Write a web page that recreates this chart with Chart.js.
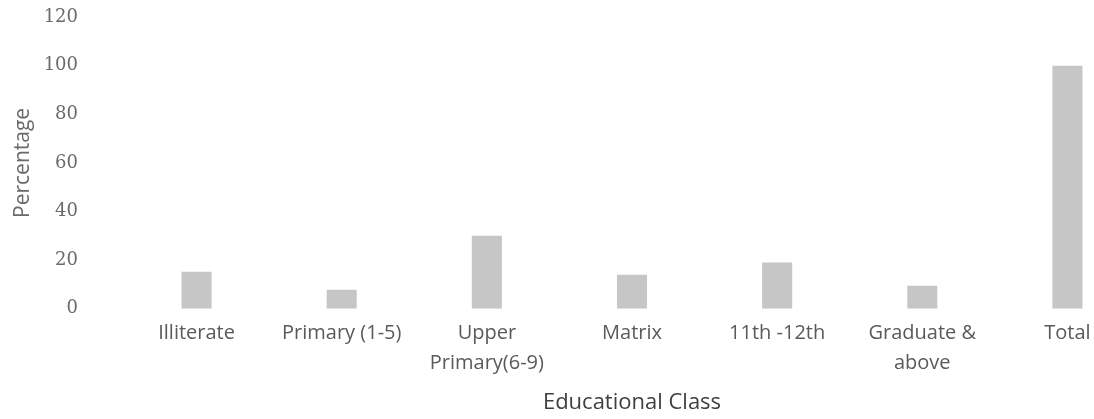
<!DOCTYPE html>
<html>
<head>
<meta charset="utf-8">
<script src="https://cdn.jsdelivr.net/npm/chart.js@4/dist/chart.umd.min.js"></script>
<style>
  html, body { margin: 0; padding: 0; background: #ffffff; overflow: hidden; width: 1094px; height: 419px; }
  #wrap { position: relative; width: 1145px; height: 419px; }
</style>
</head>
<body>
<div id="wrap"><canvas id="c"></canvas></div>
<script>
const categories = [
  "Illiterate",
  "Primary (1-5)",
  ["Upper", "Primary(6-9)"],
  "Matrix",
  "11th -12th",
  ["Graduate &", "above"],
  "Total"
];
const percentages = [15.2, 7.8, 30, 14, 19, 9.5, 100];
const yTicks = [0, 20, 40, 60, 80, 100, 120];

const chart = new Chart(document.getElementById('c'), {
  type: 'bar',
  data: {
    labels: categories,
    datasets: [{
      label: 'Percentage',
      data: percentages,
      backgroundColor: '#c6c6c6',
      borderWidth: 0,
      barPercentage: 0.414,
      categoryPercentage: 0.5
    }]
  },
  options: {
    responsive: true,
    maintainAspectRatio: false,
    animation: false,
    layout: { padding: { top: 17, right: 5, left: 0, bottom: 4 } },
    plugins: { legend: { display: false }, tooltip: { enabled: false } },
    scales: {
      x: {
        grid: { display: false, drawTicks: false },
        border: { display: false },
        ticks: {
          color: '#5a5a5a',
          font: { family: 'Open Sans', size: 20, lineHeight: 1.5 },
          padding: 9,
          maxRotation: 0,
          autoSkip: false
        },
        title: {
          display: true,
          text: 'Educational Class',
          color: '#3f3f3f',
          font: { family: 'Open Sans', size: 22, lineHeight: 1.1 },
          padding: { top: 4, bottom: 0 }
        }
      },
      y: {
        min: 0,
        max: 120,
        afterBuildTicks: (scale) => { scale.ticks = yTicks.map(v => ({ value: v })); },
        afterFit: (scale) => { scale.width = 124; scale.paddingTop = 0; scale.paddingBottom = 0; },
        grid: { display: false, drawTicks: false },
        border: { display: false },
        ticks: {
          color: '#6a6a6a',
          font: { family: 'DejaVu Serif', size: 18 },
          padding: 46
        },
        title: {
          display: true,
          text: 'Percentage',
          color: '#6a6a6a',
          font: { family: 'Open Sans', size: 21, lineHeight: 1.1 },
          padding: { top: 11, bottom: 0 }
        }
      }
    }
  }
});
</script>
</body>
</html>
